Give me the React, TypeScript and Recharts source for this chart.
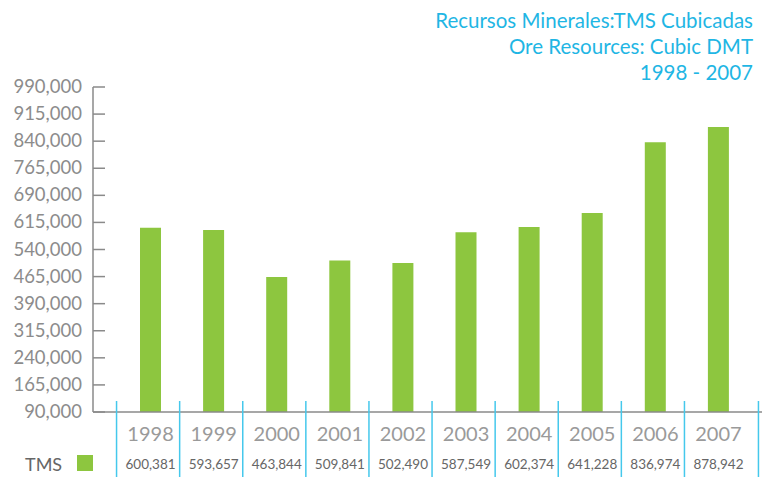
import { BarChart, Bar, XAxis, YAxis } from 'recharts'

const years = ['1998', '1999', '2000', '2001', '2002', '2003', '2004', '2005', '2006', '2007']
const tms = [600381, 593657, 463844, 509841, 502490, 587549, 602374, 641228, 836974, 878942]
const yTicks = [90000, 165000, 240000, 315000, 390000, 465000, 540000, 615000, 690000, 765000, 840000, 915000, 990000]

const titleLines = ['Recursos Minerales:TMS Cubicadas', 'Ore Resources: Cubic DMT', '1998 - 2007']

const GREEN = '#8dc63f'
const CYAN = '#1fb6e4'
const LINE_CYAN = '#45c8ec'
const AXIS = '#8a8a8a'
const FONT = 'Lato, "Open Sans", sans-serif'

const data = years.map((year, i) => ({ year, tms: tms[i] }))

const fmt = (v: number) => v.toLocaleString('en-US')

const YTick = (props: any) => {
  const { x, y, payload } = props
  return (
    <g>
      <line x1={x} x2={x + 12} y1={y} y2={y} stroke={AXIS} strokeWidth={1.5} />
      <text x={x - 11} y={y} dy={6} textAnchor="end" fontSize={18.5} fill="#8c8c8c" fontFamily={FONT}>
        {fmt(payload.value)}
      </text>
    </g>
  )
}

const XTick = (props: any) => {
  const { x, y, payload, index } = props
  return (
    <g>
      <line x1={x - 34} x2={x - 34} y1={y - 11} y2={477} stroke={LINE_CYAN} strokeWidth={1.5} />
      {index === years.length - 1 && (
        <line x1={x + 40} x2={x + 40} y1={y - 11} y2={477} stroke={LINE_CYAN} strokeWidth={1.5} />
      )}
      <text x={x} y={y + 29} textAnchor="middle" fontSize={20} fill="#9a9a9a" fontFamily={FONT}>
        {payload.value}
      </text>
      <text x={x} y={y + 57} textAnchor="middle" fontSize={13.5} fill="#666" fontFamily={FONT}>
        {fmt(tms[index])}
      </text>
    </g>
  )
}

export default function App() {
  return (
    <div style={{ position: 'absolute', left: 0, top: 0, width: 762, height: 477, background: '#fff', fontFamily: FONT }}>
      {/* título */}
      <div style={{ position: 'absolute', right: 9, top: 7, textAlign: 'right', color: CYAN, fontSize: 20.5, lineHeight: '26px' }}>
        {titleLines.map((t) => (
          <div key={t}>{t}</div>
        ))}
      </div>

      {/* leyenda TMS */}
      <div style={{ position: 'absolute', left: 25, top: 453, fontSize: 18, color: '#666', lineHeight: '22px' }}>TMS</div>
      <div style={{ position: 'absolute', left: 77, top: 455, width: 16, height: 16, background: GREEN }} />

      <BarChart width={762} height={477} data={data} margin={{ top: 87, right: 0, bottom: 0, left: 0 }}>
        <XAxis
          dataKey="year"
          height={65}
          padding={{ left: 26, right: 12 }}
          tickLine={false}
          tickSize={0}
          tickMargin={0}
          interval={0}
          axisLine={{ stroke: AXIS, strokeWidth: 1.5 }}
          tick={<XTick />}
        />
        <YAxis
          width={93}
          domain={[90000, 990000]}
          ticks={yTicks}
          allowDataOverflow
          tickLine={false}
          tickSize={0}
          tickMargin={0}
          interval={0}
          axisLine={{ stroke: AXIS, strokeWidth: 1.5 }}
          tick={<YTick />}
        />
        <Bar dataKey="tms" fill={GREEN} barSize={21} isAnimationActive={false} />
      </BarChart>
    </div>
  )
}
